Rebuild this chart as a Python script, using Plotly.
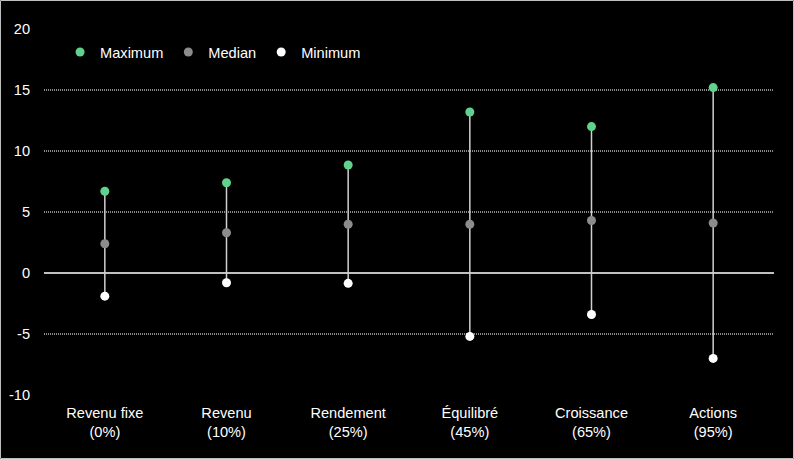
import plotly.graph_objects as go

categories = ["Revenu fixe<br>(0%)", "Revenu<br>(10%)", "Rendement<br>(25%)",
              "Équilibré<br>(45%)", "Croissance<br>(65%)", "Actions<br>(95%)"]
maximum = [6.7, 7.4, 8.85, 13.2, 12.0, 15.2]
median = [2.4, 3.3, 4.0, 4.0, 4.3, 4.1]
minimum = [-1.9, -0.8, -0.85, -5.2, -3.4, -7.0]
y_ticks = [-10, -5, 0, 5, 10, 15, 20]
y_tick_labels = ["-10", "-5", "0", "5", "10", "15", "20"]

line_x, line_y = [], []
for c, lo, hi in zip(categories, minimum, maximum):
    line_x += [c, c, None]
    line_y += [lo, hi, None]

FONT = 14.6

fig = go.Figure()
fig.add_trace(go.Scatter(x=line_x, y=line_y, mode="lines",
                         line=dict(color="#d0d0d0", width=1.5),
                         showlegend=False, hoverinfo="skip"))
fig.add_trace(go.Scatter(x=categories, y=maximum, mode="markers", name="Maximum",
                         marker=dict(color="#5fd38d", size=9)))
fig.add_trace(go.Scatter(x=categories, y=median, mode="markers", name="Median",
                         marker=dict(color="#8c8c8c", size=9)))
fig.add_trace(go.Scatter(x=categories, y=minimum, mode="markers", name="Minimum",
                         marker=dict(color="#ffffff", size=9)))

fig.update_layout(
    width=794, height=459,
    margin=dict(l=44, r=20, t=29, b=64),
    paper_bgcolor="#000000", plot_bgcolor="#000000",
    font=dict(family="Liberation Sans, Arial, sans-serif", size=FONT, color="#ffffff"),
    legend=dict(orientation="h", x=0.022, y=0.937, xanchor="left", yanchor="middle",
                bgcolor="rgba(0,0,0,0)", font=dict(size=FONT, color="#ffffff"),
                itemwidth=30),
    xaxis=dict(type="category", range=[-0.5, 5.5], showgrid=False, zeroline=False,
               showline=False, ticks="", ticklabelstandoff=7, automargin=False,
               tickfont=dict(size=FONT, color="#ffffff")),
    yaxis=dict(range=[-10, 20], tickvals=y_ticks, ticktext=y_tick_labels, showgrid=True,
               gridcolor="#8a8a8a", griddash="1px,1px", gridwidth=1.5,
               zeroline=True, zerolinecolor="#c0c0c0", zerolinewidth=2,
               showline=False, ticks="", ticklabelstandoff=13, automargin=False,
               tickfont=dict(size=FONT, color="#ffffff")),
    shapes=[dict(type="rect", xref="paper", yref="paper",
                 x0=-43.5/730, x1=1 + 19.5/730, y0=-63.5/366, y1=1 + 28.5/366,
                 line=dict(color="#bfbfbf", width=1), layer="above")],
)

fig.write_html("out.html", config={"displayModeBar": False},
               post_script="document.body.style.margin='0';document.body.style.background='#000';")
